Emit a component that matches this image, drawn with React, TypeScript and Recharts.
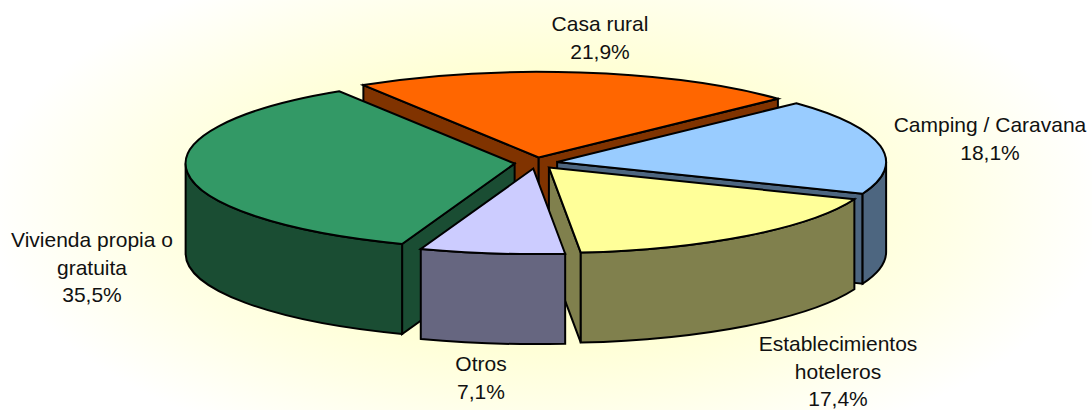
import { Pie, PieChart } from "recharts"

const categories = ["Casa rural", "Camping / Caravana", "Establecimientos hoteleros", "Otros", "Vivienda propia o gratuita"]
const shares = [21.9, 18.1, 17.4, 7.1, 35.5]
const topColors = ["#FF6600", "#99CCFF", "#FFFF99", "#CCCCFF", "#339966"]
const wallColors = ["#803300", "#4D6680", "#80804D", "#666680", "#1A4D33"]
const labelLines = [["Casa rural"], ["Camping / Caravana"], ["Establecimientos", "hoteleros"], ["Otros"], ["Vivienda propia o", "gratuita"]]
// text centre x and first baseline of each label
const labelAnchors = [[600, 31], [990, 132], [838, 351], [481, 371], [92, 247]]

const data = categories.map((name, i) => ({ name, value: shares[i], fill: topColors[i], wall: wallColors[i], index: i }))

const FRONT = "Otros"
const TILT = 0.26
const DEPTH = 90
const EXPLODE = 21.5
const RAD = Math.PI / 180

const Slice3D = (props: any) => {
  const { cx, cy, outerRadius: r, startAngle, endAngle, payload, fill } = props
  const mid = ((startAngle + endAngle) / 2) * RAD
  const ox = cx + EXPLODE * Math.cos(mid)
  const oy = cy - EXPLODE * TILT * Math.sin(mid)
  const pt = (deg: number, dy = 0) =>
    `${ox + r * Math.cos(deg * RAD)} ${oy - r * TILT * Math.sin(deg * RAD) + dy}`
  const arc = (deg: number, sweep: number, dy = 0, large = 0) => `A ${r} ${r * TILT} 0 ${large} ${sweep} ${pt(deg, dy)}`
  const line = { stroke: "#000", strokeWidth: 2, strokeLinejoin: "miter" as const }

  const walls: string[] = []
  const hi = Math.max(startAngle, endAngle)
  const lo = Math.min(startAngle, endAngle)
  // outer wall only where the rim faces the viewer
  for (const k of [-1, 0, 1]) {
    const a = Math.min(hi, 360 * k)
    const b = Math.max(lo, 360 * k - 180)
    if (a > b) walls.push(`M ${pt(a)} ${arc(b, 1)} L ${pt(b, DEPTH)} ${arc(a, 0, DEPTH)} Z`)
  }
  const face = (deg: number) =>
    `M ${ox} ${oy} L ${pt(deg)} L ${pt(deg, DEPTH)} L ${ox} ${oy + DEPTH} Z`
  const large = hi - lo > 180 ? 1 : 0

  return (
    <g>
      {Math.cos(hi * RAD) < 0 && <path d={face(hi)} fill={payload.wall} {...line} />}
      {Math.cos(lo * RAD) > 0 && <path d={face(lo)} fill={payload.wall} {...line} />}
      {walls.map((d) => (
        <path key={d} d={d} fill={payload.wall} {...line} />
      ))}
      <path d={`M ${ox} ${oy} L ${pt(hi)} ${arc(lo, 1, 0, large)} Z`} fill={fill} {...line} />
    </g>
  )
}

const backShape = (props: any) => (props.payload.name === FRONT ? <g /> : <Slice3D {...props} />)
const frontShape = (props: any) => (props.payload.name === FRONT ? <Slice3D {...props} /> : <g />)

const renderLabel = (props: any) => {
  const i = props.payload.index
  const [x, y] = labelAnchors[i]
  const lines = [...labelLines[i], `${shares[i].toFixed(1).replace(".", ",")}%`]
  return (
    <text x={x} y={y} textAnchor="middle" fontFamily="Liberation Sans, Arial, sans-serif" fontSize={21} fill="#111">
      {lines.map((t, n) => (
        <tspan key={t} x={x} dy={n === 0 ? 0 : 27.5}>
          {t}
        </tspan>
      ))}
    </text>
  )
}

export default function App() {
  return (
    <div
      style={{
        position: "absolute",
        left: 0,
        top: 0,
        width: 1092,
        height: 410,
        background:
          "radial-gradient(ellipse 560px 270px at 546px 205px, #FFFFC4 0%, #FFFFCC 40%, #FFFFE6 72%, #FFFFFF 100%)",
      }}
    >
      <PieChart width={1092} height={410} margin={{ top: 0, right: 0, bottom: 0, left: 0 }}>
        <Pie
          data={data}
          dataKey="value"
          cx={536}
          cy={163}
          outerRadius={329}
          startAngle={122.2}
          endAngle={-237.8}
          shape={backShape}
          label={renderLabel}
          labelLine={false}
          isAnimationActive={false}
        />
        <Pie
          data={data}
          dataKey="value"
          cx={536}
          cy={163}
          outerRadius={329}
          startAngle={122.2}
          endAngle={-237.8}
          shape={frontShape}
          label={false}
          labelLine={false}
          isAnimationActive={false}
        />
      </PieChart>
    </div>
  )
}
